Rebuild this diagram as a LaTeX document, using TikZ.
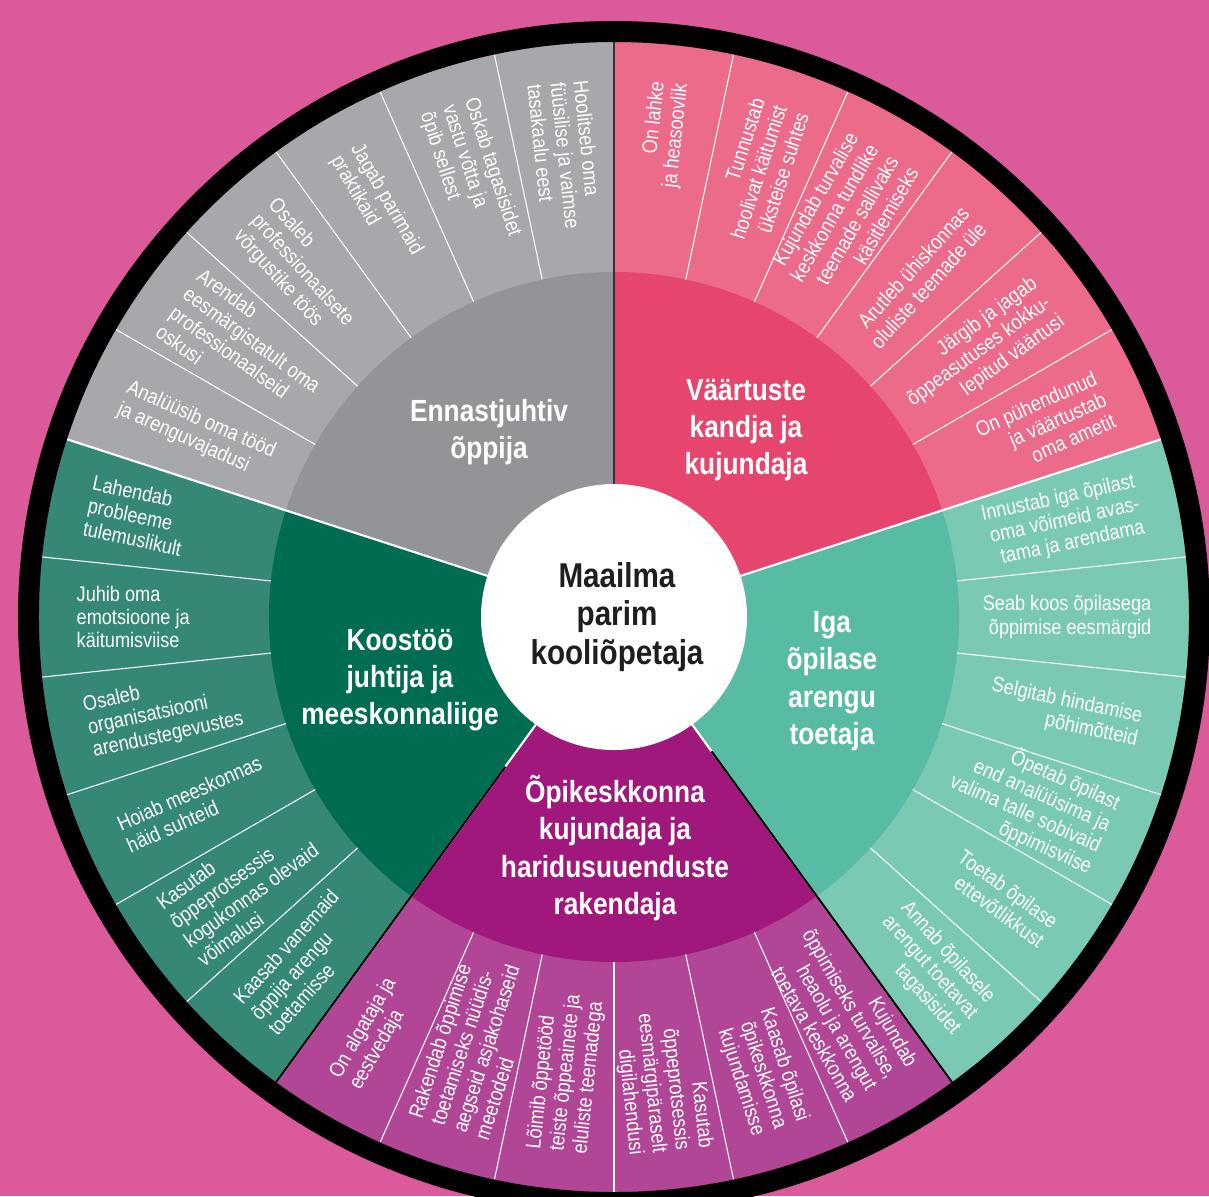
\documentclass[tikz,border=0pt]{standalone}
\usepackage{fontspec}
\setmainfont{Liberation Sans}[FakeStretch=0.86]
\usetikzlibrary{positioning}
\definecolor{bgpink}{RGB}{219,90,154}
\definecolor{greyA}{RGB}{167,168,172}
\definecolor{greyB}{RGB}{147,148,152}
\definecolor{pinkA}{RGB}{236,106,138}
\definecolor{pinkB}{RGB}{230,70,110}
\definecolor{tealA}{RGB}{122,201,180}
\definecolor{tealB}{RGB}{88,187,164}
\definecolor{purpA}{RGB}{178,70,150}
\definecolor{purpB}{RGB}{160,24,123}
\definecolor{greenA}{RGB}{52,136,117}
\definecolor{greenB}{RGB}{0,108,82}
\definecolor{ink}{RGB}{30,30,30}
\tikzset{
item/.style={text=white, font=\fontsize{6}{6.6}\selectfont, inner sep=0pt},
inw/.style={item, anchor=west, rotate=#1-180, align=left},
outw/.style={item, anchor=east, rotate=#1, align=right},
head/.style={text=white, font=\bfseries\fontsize{8.7}{10.6}\selectfont, align=center, inner sep=0pt},
sep/.style={white, line width=0.3pt},
bound/.style={white, line width=0.6pt},
}

\begin{document}
\begin{tikzpicture}[x=0.01cm, y=0.01cm]
\useasboundingbox (-614,-579) rectangle (595,617);
\clip (-614,-579) rectangle (595,617);
\fill[bgpink] (-614,-579) rectangle (595,617);

% five groups, 72 degrees each
\foreach \a/\ca/\cb in {90/greyA/greyB, 162/greenA/greenB, 234/purpA/purpB, 306/tealA/tealB, 18/pinkA/pinkB}{
  \fill[\ca] (0,0) -- (\a:575) arc[start angle=\a, delta angle=72, radius=575] -- cycle;
  \fill[\cb] (0,0) -- (\a:345) arc[start angle=\a, delta angle=72, radius=345] -- cycle;
}
% thin lines between the items
\foreach \t in {6,18,...,354}
  \draw[sep] (\t:345) -- (\t:575);

% group borders
\draw[bound] (18:133) -- (18:575);
\draw[bound] (162:133) -- (162:575);
\draw[bound] (306:133) -- (306:575);
\draw[bound] (234:133) -- (234:575);
\draw[black, line width=0.6pt] (306:166) -- (306:575);
\draw[black, line width=0.6pt] (234:185) -- (234:575);
\draw[black!80, line width=0.4pt] (90:133) -- (90:575);

\draw[black, line width=5.97pt] (0,0) circle[radius=585.5];
\fill[white] (0,0) circle[radius=133];

\node[font=\bfseries\fontsize{9.8}{11}\selectfont, text=ink, align=center] (core) at (3,0) {Maailma\\parim\\kooliõpetaja};

\node[head] (self) at (-125,185) {Ennastjuhtiv\\õppija};
\node[head] (values) at (132,187) {Väärtuste\\kandja ja\\kujundaja};
\node[head] (support) at (218,-64) {Iga\\õpilase\\arengu\\toetaja};
\node[head] (env) at (1,-231) {Õpikeskkonna\\kujundaja ja\\haridusuuenduste\\rakendaja};
\node[head] (team) at (-214,-63) {Koostöö\\juhtija ja\\meeskonnaliige};

% Ennastjuhtiv õppija
\node[inw=96] (s1) at (96:538) {Hoolitseb oma\\füüsilise ja vaimse\\tasakaalu eest};
\node[inw=108] (s2) at (108:538) {Oskab tagasisidet\\vastu võtta ja\\õpib sellest};
\node[inw=120] (s3) at (120:538) {Jagab parimaid\\praktikaid};
\node[inw=132] (s4) at (132:538) {Osaleb\\professionaalsete\\võrgustike töös};
\node[inw=144] (s5) at (144:538) {Arendab\\eesmärgistatult oma\\professionaalseid\\oskusi};
\node[inw=156] (s6) at (156:538) {Analüüsib oma tööd\\ja arenguvajadusi};

% Koostöö juhtija
\node[inw=168] (t1) at (168:538) {Lahendab\\probleeme\\tulemuslikult};
\node[inw=180] (t2) at (180:538) {Juhib oma\\emotsioone ja\\käitumisviise};
\node[inw=192] (t3) at (192:538) {Osaleb\\organisatsiooni\\arendustegevustes};
\node[inw=204] (t4) at (204:538) {Hoiab meeskonnas\\häid suhteid};
\node[inw=216] (t5) at (216:538) {Kasutab\\õppeprotsessis\\kogukonnas olevaid\\võimalusi};
\node[inw=228] (t6) at (228:538) {Kaasab vanemaid\\õppija arengu\\toetamisse};

% Õpikeskkonna kujundaja
\node[inw=240] (e1) at (240:538) {On algataja ja\\eestvedaja};
\node[inw=252] (e2) at (252:538) {Rakendab õppimise\\toetamiseks nüüdis-\\aegseid asjakohaseid\\meetodeid};
\node[inw=264] (e3) at (264:538) {Lõimib õppetööd\\teiste õppeainete ja\\eluliste teemadega};
\node[outw=276] (e4) at (276:538) {Kasutab\\õppeprotsessis\\eesmärgipäraselt\\digilahendusi};
\node[outw=288] (e5) at (288:538) {Kaasab õpilasi\\õpikeskkonna\\kujundamisse};
\node[outw=300] (e6) at (300:538) {Kujundab\\õppimiseks turvalise,\\heaolu ja arengut\\toetava keskkonna};

% Iga õpilase arengu toetaja
\node[outw=-48] (a1) at (-48:538) {Annab õpilasele\\arengut toetavat\\tagasisidet};
\node[outw=-36] (a2) at (-36:538) {Toetab õpilase\\ettevõtlikkust};
\node[outw=-24] (a3) at (-24:538) {Õpetab õpilast\\end analüüsima ja\\valima talle sobivaid\\õppimisviise};
\node[outw=-12] (a4) at (-12:538) {Selgitab hindamise\\põhimõtteid};
\node[outw=0] (a5) at (0:538) {Seab koos õpilasega\\õppimise eesmärgid};
\node[outw=12] (a6) at (12:538) {Innustab iga õpilast\\oma võimeid avas-\\tama ja arendama};

% Väärtuste kandja
\node[outw=24] (v1) at (24:538) {On pühendunud\\ja väärtustab\\oma ametit};
\node[outw=36] (v2) at (36:538) {Järgib ja jagab\\õppeasutuses kokku-\\lepitud väärtusi};
\node[outw=48] (v3) at (48:538) {Arutleb ühiskonnas\\oluliste teemade üle};
\node[outw=60] (v4) at (60:538) {Kujundab turvalise\\keskkonna tundlike\\teemade sallivaks\\käsitlemiseks};
\node[outw=72] (v5) at (72:538) {Tunnustab\\hoolivat käitumist\\üksteise suhtes};
\node[outw=84] (v6) at (84:538) {On lahke\\ja heasoovlik};
\end{tikzpicture}
\end{document}
